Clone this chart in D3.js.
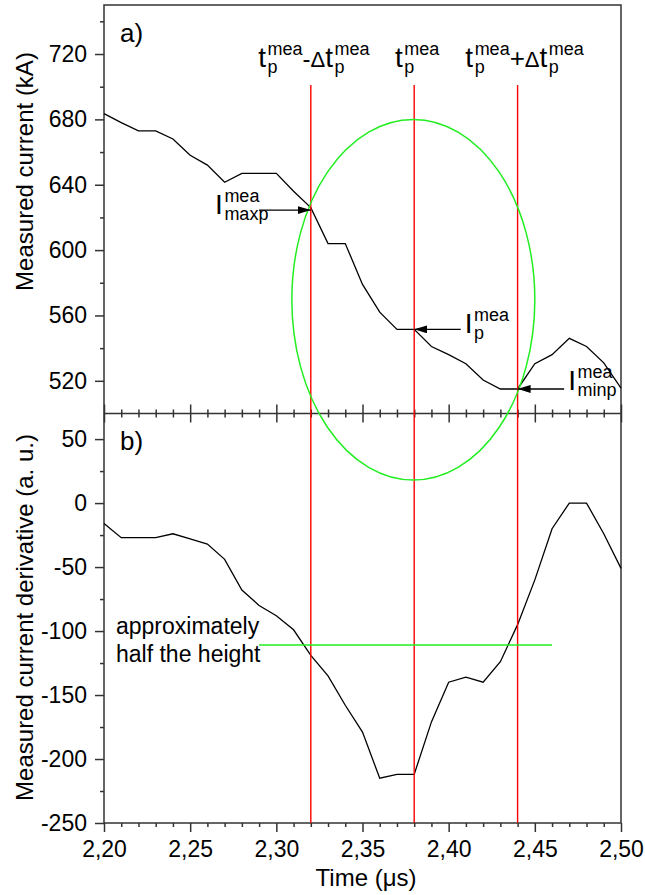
<!DOCTYPE html>
<html>
<head>
<meta charset="utf-8">
<script src="https://cdn.jsdelivr.net/npm/d3@7"></script>
<style>
  body { margin: 0; background: #fff; }
  text { font-family: "Liberation Sans", Arial, sans-serif; fill: #000; }
</style>
</head>
<body>
<div id="chart"></div>
<script>
// data
const time = [2.20, 2.21, 2.22, 2.23, 2.24, 2.25, 2.26, 2.27, 2.28, 2.29, 2.30,
  2.31, 2.32, 2.33, 2.34, 2.35, 2.36, 2.37, 2.38, 2.39, 2.40,
  2.41, 2.42, 2.43, 2.44, 2.45, 2.46, 2.47, 2.48, 2.49, 2.50];
const current = [683.5, 678, 673, 673, 668, 658, 652, 641.5, 647, 647, 647,
  636, 626, 604, 604, 579, 562, 551.5, 551.5, 541, 536,
  530.5, 520.5, 515, 515, 530.5, 536, 546, 541, 531, 515.5];
const derivative = [-16, -27, -27, -27, -24, -28, -32, -44, -68, -80, -88,
  -99, -119, -135, -158, -179, -215, -212, -212, -171, -140,
  -136, -140, -124, -95, -60, -20, 0, 0, -24, -51];

const timeTicks = [2.20, 2.25, 2.30, 2.35, 2.40, 2.45, 2.50];
const currentTicks = [520, 560, 600, 640, 680, 720];
const currentMinor = [540, 580, 620, 660, 700, 740];
const derivTicks = [50, 0, -50, -100, -150, -200, -250];
const derivMinor = [25, -25, -75, -125, -175, -225];

const markerTimes = [2.32, 2.38, 2.44];
const markerTop = 701; // kA, where red lines start

const ellipseTimes = [2.309, 2.450];
const ellipseCurrentTop = 680;
const ellipseDerivBottom = 18;

const halfHeight = -111;
const halfTimes = [2.29, 2.46];

const arrowTip = [2.32, 2.38, 2.44];
const arrowTail = [2.29, 2.407, 2.467];
const arrowValue = [624.5, 551.5, 515];
const arrowSub = ["maxp", "p", "minp"];

//size
const width = 645;
const height = 895;
const margin = { top: 5, right: 24, bottom: 72, left: 104 };
const innerWidth = width - margin.left - margin.right;
const innerHeight = height - margin.top - margin.bottom;
const split = 408.5;

const x = d3.scaleLinear().domain([2.2, 2.5]).range([0, innerWidth]);
const yTop = d3.scaleLinear().domain([500, 750]).range([split, 0]);
const yBot = d3.scaleLinear().domain([-250, 70]).range([innerHeight, split]);

const axisColor = "#333";

const svg = d3.select("#chart")
  .append("svg")
  .attr("width", width)
  .attr("height", height);

svg.append("defs").append("marker")
  .attr("id", "head")
  .attr("markerUnits", "userSpaceOnUse")
  .attr("viewBox", "0 0 13 8")
  .attr("refX", 13).attr("refY", 4)
  .attr("markerWidth", 13).attr("markerHeight", 8)
  .attr("orient", "auto")
  .append("path")
  .attr("d", "M0,0L13,4L0,8Z")
  .attr("fill", "#000");

const g = svg.append("g")
  .attr("transform", `translate(${margin.left},${margin.top})`);

function styleAxis(sel, labels) {
  sel.select(".domain").remove();
  sel.selectAll("line").attr("stroke", axisColor).attr("stroke-width", 1.5);
  sel.selectAll("text")
    .attr("font-size", 23)
    .attr("font-family", "'Liberation Sans', Arial, sans-serif")
    .attr("fill", "#000");
  if (!labels) sel.selectAll("text").remove();
}

const plain = d => String(d); // hyphen minus like the original

// left axes
g.append("g").call(d3.axisLeft(yTop).tickValues(currentTicks).tickSize(9).tickPadding(8).tickFormat(plain))
  .call(s => styleAxis(s, true));
g.append("g").call(d3.axisLeft(yTop).tickValues(currentMinor).tickSize(4))
  .call(s => styleAxis(s, false));
g.append("g").call(d3.axisLeft(yBot).tickValues(derivTicks).tickSize(9).tickPadding(8).tickFormat(plain))
  .call(s => styleAxis(s, true));
g.append("g").call(d3.axisLeft(yBot).tickValues(derivMinor).tickSize(4))
  .call(s => styleAxis(s, false));

const minorTime = time.filter(t => !timeTicks.some(m => Math.abs(m - t) < 1e-9));

// bottom axis
g.append("g").attr("transform", `translate(0,${innerHeight})`)
  .call(d3.axisBottom(x).tickValues(timeTicks).tickSize(9).tickPadding(9)
    .tickFormat(d => d3.format(".2f")(d).replace(".", ",")))
  .call(s => styleAxis(s, true));
g.append("g").attr("transform", `translate(0,${innerHeight})`)
  .call(d3.axisBottom(x).tickValues(minorTime).tickSize(4))
  .call(s => styleAxis(s, false));

// middle axis, ticks crossing the line
[d3.axisBottom, d3.axisTop].forEach(ax => {
  g.append("g").attr("transform", `translate(0,${split})`)
    .call(ax(x).tickValues(timeTicks).tickSize(9))
    .call(s => styleAxis(s, false));
  g.append("g").attr("transform", `translate(0,${split})`)
    .call(ax(x).tickValues(minorTime).tickSize(4))
    .call(s => styleAxis(s, false));
});

// frame
g.append("rect")
  .attr("width", innerWidth).attr("height", innerHeight)
  .attr("fill", "none").attr("stroke", axisColor).attr("stroke-width", 1.5);
g.append("line")
  .attr("x1", 0).attr("x2", innerWidth).attr("y1", split).attr("y2", split)
  .attr("stroke", axisColor).attr("stroke-width", 1.5);

// curves
g.append("path")
  .datum(time)
  .attr("fill", "none").attr("stroke", "#000").attr("stroke-width", 1.3)
  .attr("d", d3.line().x(d => x(d)).y((d, i) => yTop(current[i])));
g.append("path")
  .datum(time)
  .attr("fill", "none").attr("stroke", "#000").attr("stroke-width", 1.3)
  .attr("d", d3.line().x(d => x(d)).y((d, i) => yBot(derivative[i])));

// red markers
g.selectAll(".marker")
  .data(markerTimes)
  .join("line")
  .attr("class", "marker")
  .attr("x1", d => x(d)).attr("x2", d => x(d))
  .attr("y1", yTop(markerTop)).attr("y2", yBot(-250))
  .attr("stroke", "#ff0000").attr("stroke-width", 1.4);

// green ellipse and half height line
g.append("ellipse")
  .attr("cx", (x(ellipseTimes[0]) + x(ellipseTimes[1])) / 2)
  .attr("rx", (x(ellipseTimes[1]) - x(ellipseTimes[0])) / 2)
  .attr("cy", (yTop(ellipseCurrentTop) + yBot(ellipseDerivBottom)) / 2)
  .attr("ry", (yBot(ellipseDerivBottom) - yTop(ellipseCurrentTop)) / 2)
  .attr("fill", "none").attr("stroke", "#22ee22").attr("stroke-width", 1.5);
g.append("line")
  .attr("x1", x(halfTimes[0])).attr("x2", x(halfTimes[1]))
  .attr("y1", yBot(halfHeight)).attr("y2", yBot(halfHeight))
  .attr("stroke", "#22ee22").attr("stroke-width", 1.5);

// text with stacked super/subscripts, placed with absolute x/y
function richText(parent, pieces) {
  const items = [];
  let cx = 0;
  pieces.forEach(p => {
    const main = parent.append("text").attr("font-size", p.size || 28).text(p.text);
    items.push([main, cx, 0]);
    cx += main.node().getComputedTextLength();
    if (p.sup || p.sub) {
      cx += 1.5;
      let w = 0;
      if (p.sup) {
        const s = parent.append("text").attr("font-size", 18).text(p.sup);
        items.push([s, cx, -12]);
        w = Math.max(w, s.node().getComputedTextLength());
      }
      if (p.sub) {
        const s = parent.append("text").attr("font-size", 18).text(p.sub);
        items.push([s, cx, 6]);
        w = Math.max(w, s.node().getComputedTextLength());
      }
      cx += w;
    }
  });
  return {
    width: cx,
    place: (ox, oy) => items.forEach(([t, dx, dy]) => t.attr("x", ox + dx).attr("y", oy + dy))
  };
}

const tp = { text: "t", sup: "mea", sub: "p" };
const topLabels = [
  [tp, { text: "-", size: 24 }, { text: "\u0394", size: 22 }, tp],
  [tp],
  [tp, { text: "+", size: 26 }, { text: "\u0394", size: 22 }, tp]
];
const labelShift = [3, 3, 7];
topLabels.forEach((pieces, i) => {
  const r = richText(g, pieces);
  r.place(x(markerTimes[i]) - r.width / 2 + labelShift[i], yTop(markerTop) - 18);
});

// arrows with I labels
arrowTip.forEach((tip, i) => {
  const yy = yTop(arrowValue[i]);
  g.append("line")
    .attr("x1", x(arrowTail[i])).attr("x2", x(tip))
    .attr("y1", yy).attr("y2", yy)
    .attr("stroke", "#000").attr("stroke-width", 1.3)
    .attr("marker-end", "url(#head)");
  const r = richText(g, [{ text: "I", sup: "mea", sub: arrowSub[i] }]);
  const lx = i === 0 ? x(arrowTail[i]) - 44 : x(arrowTail[i]) + 4;
  const dy = [3.5, 4, 1][i];
  r.place(lx, yy + dy);
});

// panel letters
g.append("text").attr("x", 16).attr("y", 36.7).attr("font-size", 26).text("a)");
g.append("text").attr("x", 16).attr("y", split + 36.5).attr("font-size", 26).text("b)");

// half height note
const note = g.append("text").attr("font-size", 23);
note.append("tspan").attr("x", 12).attr("y", yBot(halfHeight) - 11).text("approximately");
note.append("tspan").attr("x", 12).attr("y", yBot(halfHeight) + 17).text("half the height");

// axis titles
svg.append("text")
  .attr("transform", "translate(33,171.5) rotate(-90)")
  .attr("text-anchor", "middle").attr("font-size", 24)
  .text("Measured current (kA)");
svg.append("text")
  .attr("transform", "translate(33,617.5) rotate(-90)")
  .attr("text-anchor", "middle").attr("font-size", 24)
  .text("Measured current derivative (a. u.)");
svg.append("text")
  .attr("x", 366).attr("y", 886)
  .attr("text-anchor", "middle").attr("font-size", 24)
  .text("Time (\u03bcs)");
</script>
</body>
</html>
